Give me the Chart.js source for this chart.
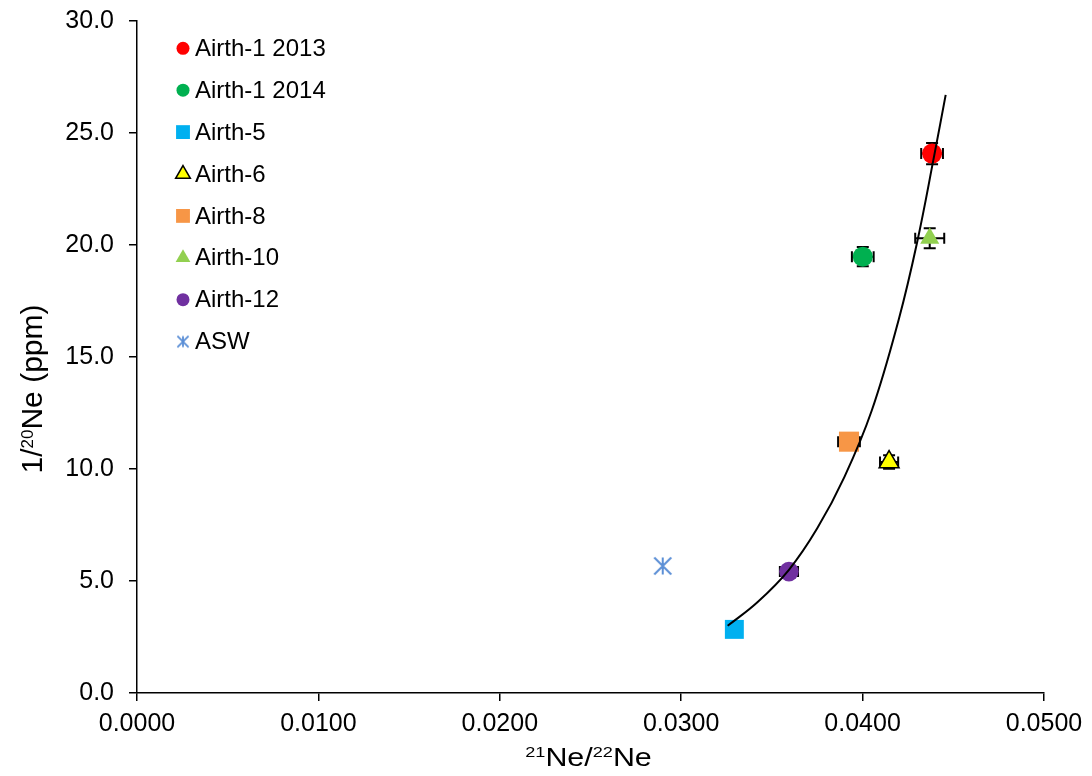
<!DOCTYPE html>
<html>
<head>
<meta charset="utf-8">
<title>Ne isotopes – Airth</title>
<script src="https://cdn.jsdelivr.net/npm/chart.js@4.4.1/dist/chart.umd.min.js"></script>
<style>
  html, body { margin: 0; padding: 0; background: #fff; }
  #wrap { width: 1092px; height: 776px; }
</style>
</head>
<body>
<div id="wrap"><canvas id="chart" width="1092" height="776"></canvas></div>
<script>
'use strict';

/* ── data ─────────────────────────────────────────────── */
const SAMPLES      = ['Airth-1 2013', 'Airth-1 2014', 'Airth-5', 'Airth-6', 'Airth-8', 'Airth-10', 'Airth-12', 'ASW'];
const NE21_22      = [0.04383, 0.04001, 0.03293, 0.04146, 0.03925, 0.04370, 0.03594, 0.02898];
const INV_NE20     = [24.08, 19.48, 2.84, 10.31, 11.22, 20.30, 5.42, 5.67];
const NE21_22_ERR  = [0.0006, 0.0006, 0, 0.0005, 0.0006, 0.0008, 0.0005, 0];
const INV_NE20_ERR = [0.47, 0.43, 0, 0.30, 0, 0.45, 0, 0];

// exponential trendline
const TREND_X = [0.03256, 0.03420, 0.03594, 0.03750, 0.03900, 0.04050, 0.04200, 0.04300, 0.04395, 0.04458];
const TREND_Y = [3.00, 4.05, 5.50, 7.35, 9.65, 12.60, 16.70, 20.10, 24.00, 26.70];

const X_TICK_LABELS = ['0.0000', '0.0100', '0.0200', '0.0300', '0.0400', '0.0500'];
const Y_TICK_LABELS = ['0.0', '5.0', '10.0', '15.0', '20.0', '25.0', '30.0'];

/* ── marker styles ────────────────────────────────────── */
const FONT = '"Liberation Sans", Arial, sans-serif';

function starMarker(size, color, lw) {
    const c = document.createElement('canvas');
    c.width = c.height = size;
    const g = c.getContext('2d');
    const m = lw / 2 + 0.5;
    g.strokeStyle = color;
    g.lineWidth = lw;
    g.beginPath();
    g.moveTo(size / 2, m);     g.lineTo(size / 2, size - m);
    g.moveTo(m, m);            g.lineTo(size - m, size - m);
    g.moveTo(size - m, m);     g.lineTo(m, size - m);
    g.stroke();
    return c;
}

const FILLS   = ['#FF0000', '#00B050', '#00B0F0', '#FFFF00', '#F79646', '#92D050', '#7030A0', '#5B8FD6'];
const BORDERS = [null, null, null, '#000000', null, null, null, null];
const SHAPES  = ['circle', 'circle', 'rect', 'triangle', 'rect', 'triangle', 'circle',
                 starMarker(20, '#5B8FD6', 2)];
const LEGEND_SHAPES = SHAPES.slice(0, 7).concat([starMarker(14, '#5B8FD6', 1.8)]);
const RADII        = [10, 10, 13.4, 11.5, 14.2, 11, 9.8, 10];
const LEGEND_RADII = [6.5, 6.5, 9.8, 8.5, 9.8, 8.5, 6.5, 7];

/* ── plugins ──────────────────────────────────────────── */
const errorBars = {
    id: 'errorBars',
    beforeDatasetsDraw(chart) {
        const { ctx, scales: { x, y } } = chart;
        ctx.save();
        ctx.strokeStyle = '#000';
        ctx.lineWidth = 2;
        SAMPLES.forEach((_, i) => {
            const px = x.getPixelForValue(NE21_22[i]);
            const py = y.getPixelForValue(INV_NE20[i]);
            ctx.beginPath();
            if (NE21_22_ERR[i]) {
                const x0 = x.getPixelForValue(NE21_22[i] - NE21_22_ERR[i]);
                const x1 = x.getPixelForValue(NE21_22[i] + NE21_22_ERR[i]);
                ctx.moveTo(x0, py); ctx.lineTo(x1, py);
                ctx.moveTo(x0, py - 5.5); ctx.lineTo(x0, py + 5.5);
                ctx.moveTo(x1, py - 5.5); ctx.lineTo(x1, py + 5.5);
            }
            if (INV_NE20_ERR[i]) {
                const y0 = y.getPixelForValue(INV_NE20[i] - INV_NE20_ERR[i]);
                const y1 = y.getPixelForValue(INV_NE20[i] + INV_NE20_ERR[i]);
                ctx.moveTo(px, y0); ctx.lineTo(px, y1);
                ctx.moveTo(px - 6, y0); ctx.lineTo(px + 6, y0);
                ctx.moveTo(px - 6, y1); ctx.lineTo(px + 6, y1);
            }
            ctx.stroke();
        });
        ctx.restore();
    }
};

// legend sits inside the plot, top left
const sampleLegend = {
    id: 'sampleLegend',
    afterDraw(chart) {
        const { ctx } = chart;
        const mx = 183, tx = 195, y0 = 48.3, step = 41.9;
        ctx.save();
        ctx.font = `24px ${FONT}`;
        ctx.textBaseline = 'middle';
        ctx.textAlign = 'left';
        SAMPLES.forEach((name, i) => {
            const y = y0 + i * step;
            ctx.fillStyle = FILLS[i];
            ctx.strokeStyle = BORDERS[i] || FILLS[i];
            ctx.lineWidth = 1.5;
            Chart.helpers.drawPoint(ctx, {
                pointStyle: LEGEND_SHAPES[i], rotation: 0,
                radius: LEGEND_RADII[i], borderWidth: BORDERS[i] ? 1.5 : 0
            }, mx, y);
            ctx.fillStyle = '#000';
            ctx.fillText(name, tx, y + 1);
        });
        ctx.restore();
    }
};

// axis titles with superscript mass numbers
function drawRich(ctx, parts, size, supSize, supRise) {
    let w = 0;
    parts.forEach(p => {
        ctx.font = `${p.sup ? supSize : size}px ${FONT}`;
        p.w = ctx.measureText(p.t).width;
        w += p.w;
    });
    let x = -w / 2;
    parts.forEach(p => {
        ctx.font = `${p.sup ? supSize : size}px ${FONT}`;
        ctx.fillText(p.t, x, p.sup ? -supRise : 0);
        x += p.w;
    });
}

const axisTitles = {
    id: 'axisTitles',
    afterDraw(chart) {
        const { ctx, chartArea } = chart;
        ctx.save();
        ctx.fillStyle = '#000';
        ctx.textBaseline = 'alphabetic';
        ctx.textAlign = 'left';

        ctx.save();
        ctx.translate((chartArea.left + chartArea.right) / 2 - 2, 765.5);
        ctx.scale(1.17, 1);
        drawRich(ctx, [{ t: '21', sup: true }, { t: 'Ne/' }, { t: '22', sup: true }, { t: 'Ne' }], 26, 15.5, 8.5);
        ctx.restore();

        ctx.save();
        ctx.translate(42, 389);
        ctx.rotate(-Math.PI / 2);
        drawRich(ctx, [{ t: '1/' }, { t: '20', sup: true }, { t: 'Ne (ppm)' }], 30, 17, 9.3);
        ctx.restore();

        ctx.restore();
    }
};

/* ── chart ────────────────────────────────────────────── */
const datasets = SAMPLES.map((name, i) => ({
    label: name,
    data: [{ x: NE21_22[i], y: INV_NE20[i] }],
    pointStyle: SHAPES[i],
    pointRadius: RADII[i],
    pointHoverRadius: RADII[i],
    backgroundColor: FILLS[i],
    borderColor: BORDERS[i] || FILLS[i],
    pointBorderWidth: BORDERS[i] ? 1.5 : 0,
    showLine: false,
    order: 1
}));

datasets.push({
    label: 'Expon.',
    data: TREND_X.map((x, i) => ({ x, y: TREND_Y[i] })),
    showLine: true,
    borderColor: '#000',
    borderWidth: 2,
    pointRadius: 0,
    tension: 0.4,
    order: 0
});

const axisCommon = {
    type: 'linear',
    border: { display: true, color: '#000', width: 1.5 },
    grid: { display: true, drawOnChartArea: false, drawTicks: true, tickLength: 8, color: '#000', lineWidth: 1.5, tickColor: '#000' },
    title: { display: false }
};

new Chart(document.getElementById('chart'), {
    type: 'scatter',
    data: { datasets },
    options: {
        responsive: false,
        animation: false,
        events: [],
        layout: { padding: { top: 21, right: 48, bottom: 0, left: 0 } },
        plugins: { legend: { display: false }, tooltip: { enabled: false } },
        scales: {
            x: {
                ...axisCommon,
                position: 'bottom',
                min: 0, max: 0.05,
                ticks: {
                    stepSize: 0.01, color: '#000', padding: 8, maxRotation: 0,
                    font: { family: FONT, size: 25 },
                    callback: (v, i) => X_TICK_LABELS[i]
                },
                afterFit: s => { s.height = 83; s.paddingLeft = 0; s.paddingRight = 0; }
            },
            y: {
                ...axisCommon,
                position: 'left',
                min: 0, max: 30,
                ticks: {
                    stepSize: 5, color: '#000', padding: 15,
                    font: { family: FONT, size: 25 },
                    callback: (v, i) => Y_TICK_LABELS[i]
                },
                afterFit: s => { s.width = 137; s.paddingTop = 0; s.paddingBottom = 0; }
            }
        }
    },
    plugins: [errorBars, sampleLegend, axisTitles]
});
</script>
</body>
</html>
